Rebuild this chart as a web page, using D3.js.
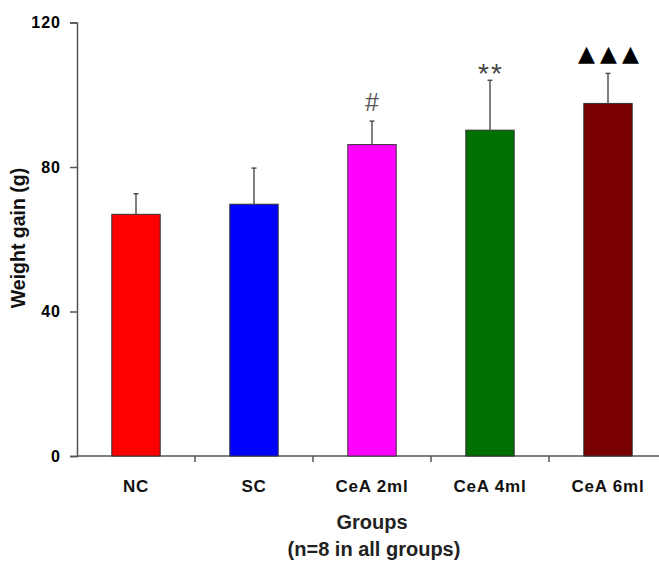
<!doctype html>
<html lang="en">
<head>
  <meta charset="UTF-8" />
  <script src="https://cdn.jsdelivr.net/npm/d3@7"></script>
  <style>
    body { margin: 0; background: #fff; }
    text { font-family: "Liberation Sans", Arial, sans-serif; }
    .axis path, .axis line { stroke: #555; stroke-width: 1.5; }
    .axis text { font-weight: bold; fill: #111; }
    .err { stroke: #555; stroke-width: 1.5; }
  </style>
  <title>Weight gain</title>
</head>
<body>
  <script>
    var groups = ["NC", "SC", "CeA 2ml", "CeA 4ml", "CeA 6ml"];
    var means = [66.9, 69.7, 86.2, 90.2, 97.6];
    var sds = [5.7, 10.0, 6.5, 13.8, 8.3];
    var colors = ["#ff0000", "#0000ff", "#ff00ff", "#007000", "#780000"];
    var marks = ["", "", "#", "**", "▲▲▲"];
    var yTicks = [0, 40, 80, 120];

    var W = 659, H = 562;
    var svg = d3.select("body").append("svg")
      .attr("width", W).attr("height", H);

    var x = d3.scaleBand().domain(groups).range([77, 667]);
    var y = d3.scaleLinear().domain([0, 120]).range([456, 22.5]);
    var bw = x.bandwidth() * 0.41;

    // y axis
    var yAxis = svg.append("g").attr("class", "axis")
      .attr("transform", "translate(77,0)")
      .call(d3.axisLeft(y).tickValues(yTicks).tickSize(7).tickPadding(9));
    yAxis.selectAll("text").style("font-size", "16px").style("letter-spacing", "1px")
      .style("fill", "#000");

    // x axis
    var xAxis = svg.append("g").attr("class", "axis")
      .attr("transform", "translate(0,456)")
      .call(d3.axisBottom(x).tickSize(0).tickPadding(24));
    xAxis.select(".domain").attr("d", "M77,0H659");
    xAxis.selectAll("text").style("font-size", "17px").style("letter-spacing", "0.8px");
    xAxis.selectAll("line.sep")
      .data(groups.slice(1))
      .enter().append("line")
      .attr("class", "sep")
      .attr("x1", function (d) { return x(d); })
      .attr("x2", function (d) { return x(d); })
      .attr("y1", 0).attr("y2", 6);

    // bars
    svg.append("g").selectAll("rect")
      .data(groups)
      .enter().append("rect")
      .attr("x", function (d) { return x(d) + x.bandwidth() / 2 - bw / 2; })
      .attr("y", function (d, i) { return y(means[i]); })
      .attr("width", bw)
      .attr("height", function (d, i) { return y(0) - y(means[i]); })
      .attr("fill", function (d, i) { return colors[i]; })
      .attr("stroke", "#333")
      .attr("stroke-width", 1);

    // error bars
    var eb = svg.append("g").selectAll("g")
      .data(groups)
      .enter().append("g");
    eb.append("line").attr("class", "err")
      .attr("x1", function (d) { return x(d) + x.bandwidth() / 2; })
      .attr("x2", function (d) { return x(d) + x.bandwidth() / 2; })
      .attr("y1", function (d, i) { return y(means[i]); })
      .attr("y2", function (d, i) { return y(means[i] + sds[i]); });
    eb.append("line").attr("class", "err")
      .attr("x1", function (d) { return x(d) + x.bandwidth() / 2 - 2.5; })
      .attr("x2", function (d) { return x(d) + x.bandwidth() / 2 + 2.5; })
      .attr("y1", function (d, i) { return y(means[i] + sds[i]); })
      .attr("y2", function (d, i) { return y(means[i] + sds[i]); });

    // significance marks
    var cx = function (i) { return x(groups[i]) + x.bandwidth() / 2; };
    svg.append("text").text(marks[2])
      .attr("x", cx(2)).attr("y", y(means[2] + sds[2]) - 10)
      .attr("text-anchor", "middle")
      .style("font-size", "25px").style("fill", "#555");
    svg.append("text").text(marks[3])
      .attr("x", cx(3) + 1).attr("y", y(means[3] + sds[3]) + 3)
      .attr("text-anchor", "middle")
      .style("font-size", "28px").style("letter-spacing", "2px").style("fill", "#444");
    svg.append("text").text(marks[4])
      .attr("x", cx(4) + 3).attr("y", y(means[4] + sds[4]) - 12)
      .attr("text-anchor", "middle")
      .style("font-family", "DejaVu Sans")
      .style("font-size", "22px").style("letter-spacing", "5px").style("fill", "#000");

    // titles
    svg.append("text")
      .attr("transform", "translate(25,238) rotate(-90)")
      .attr("text-anchor", "middle")
      .style("font-size", "19.5px").style("font-weight", "bold").style("fill", "#111")
      .text("Weight gain (g)");
    svg.append("text")
      .attr("x", 372).attr("y", 529)
      .attr("text-anchor", "middle")
      .style("font-size", "20px").style("font-weight", "bold").style("fill", "#222")
      .text("Groups");
    svg.append("text")
      .attr("x", 374).attr("y", 556)
      .attr("text-anchor", "middle")
      .style("font-size", "20px").style("font-weight", "bold").style("fill", "#222")
      .text("(n=8 in all groups)");
  </script>
</body>
</html>
